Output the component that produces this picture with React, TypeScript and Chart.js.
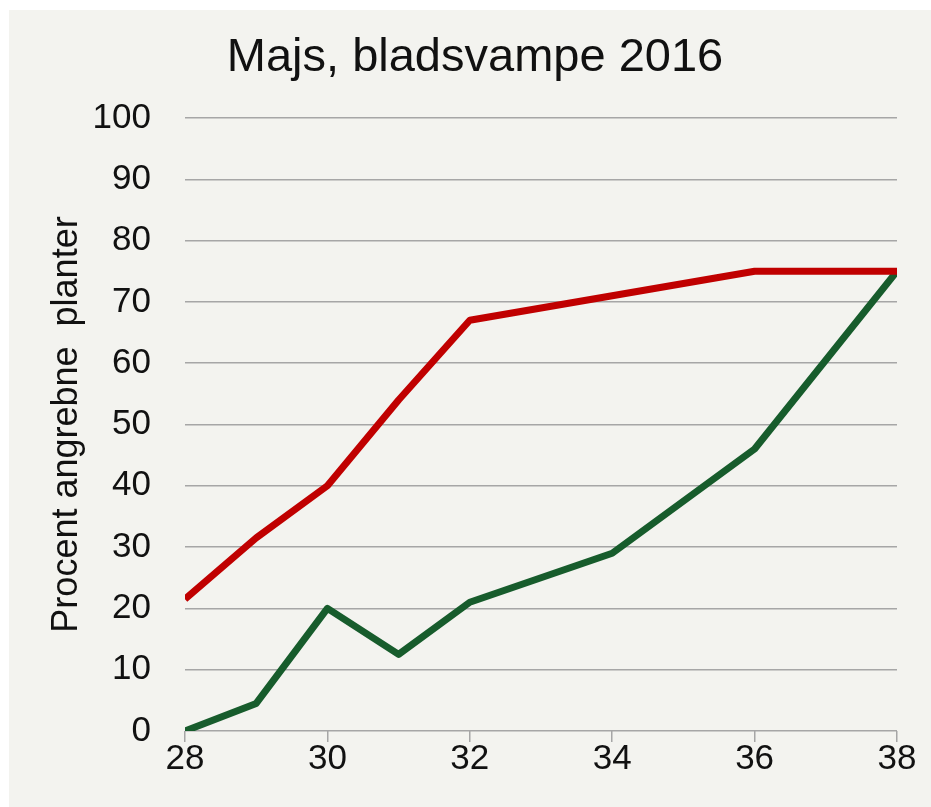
import React, { useEffect, useRef } from "react";
import { Chart, registerables } from "chart.js";

Chart.register(...registerables);

const weeks = [28, 29, 30, 31, 32, 34, 36, 38];
const redValues = [21.5, 31.5, 40, 54, 67, 71, 75, 75];
const greenValues = [0, 4.5, 20, 12.5, 21, 29, 46, 75];
const yTicks = [0, 10, 20, 30, 40, 50, 60, 70, 80, 90, 100];
const xTicks = [28, 30, 32, 34, 36, 38];

const chartTitle = "Majs, bladsvampe 2016";
const yTitle = "Procent angrebne  planter";

const FONT = "'Liberation Sans', Arial, sans-serif";

const titlePlugin = {
  id: "customTitle",
  afterDraw(chart: any) {
    const ctx = chart.ctx;
    ctx.save();
    ctx.font = `47px ${FONT}`;
    ctx.fillStyle = "#111";
    ctx.textAlign = "center";
    ctx.textBaseline = "middle";
    ctx.fillText(chartTitle, 466, 48);
    ctx.restore();
  },
};

export default function App() {
  const ref = useRef<HTMLCanvasElement | null>(null);

  useEffect(() => {
    if (!ref.current) return;
    const chart = new Chart(ref.current, {
      type: "line",
      data: {
        datasets: [
          {
            label: "red",
            data: weeks.map((w, i) => ({ x: w, y: redValues[i] })),
            borderColor: "#c00000",
            borderWidth: 7,
            pointRadius: 0,
            tension: 0,
            borderJoinStyle: "round",
          },
          {
            label: "green",
            data: weeks.map((w, i) => ({ x: w, y: greenValues[i] })),
            borderColor: "#175c2c",
            borderWidth: 7,
            pointRadius: 0,
            tension: 0,
            borderJoinStyle: "round",
          },
        ],
      },
      options: {
        animation: false,
        responsive: false,
        maintainAspectRatio: false,
        layout: { padding: { left: 0, right: 34, top: 108, bottom: 0 } },
        plugins: {
          legend: { display: false },
          tooltip: { enabled: false },
          title: { display: false },
        },
        scales: {
          x: {
            type: "linear",
            min: xTicks[0],
            max: xTicks[xTicks.length - 1],
            afterBuildTicks: (s: any) => {
              s.ticks = xTicks.map((v) => ({ value: v }));
            },
            afterFit: (s: any) => {
              s.height = 76;
            },
            grid: {
              drawOnChartArea: false,
              drawTicks: true,
              tickLength: 11,
              color: "#a6a6a6",
              lineWidth: 1.5,
            },
            border: { display: false },
            ticks: {
              color: "#111",
              font: { family: FONT, size: 35 },
              padding: -4,
              maxRotation: 0,
            },
          },
          y: {
            min: 0,
            max: 100,
            afterBuildTicks: (s: any) => {
              s.ticks = yTicks.map((v) => ({ value: v }));
            },
            afterFit: (s: any) => {
              s.width = 176;
            },
            grid: {
              drawTicks: false,
              color: "#a6a6a6",
              lineWidth: 1.5,
            },
            border: { display: false },
            ticks: {
              color: "#111",
              font: { family: FONT, size: 35 },
              padding: 34,
            },
            title: {
              display: true,
              text: yTitle,
              color: "#111",
              font: { family: FONT, size: 36 },
              padding: { top: 36, bottom: 0 },
            },
          },
        },
      },
      plugins: [titlePlugin],
    });
    return () => chart.destroy();
  }, []);

  return (
    <div
      style={{
        position: "absolute",
        left: 9,
        top: 10,
        width: 922,
        height: 797,
        background: "#f3f3ef",
      }}
    >
      <canvas ref={ref} width={922} height={797} style={{ display: "block" }} />
    </div>
  );
}
